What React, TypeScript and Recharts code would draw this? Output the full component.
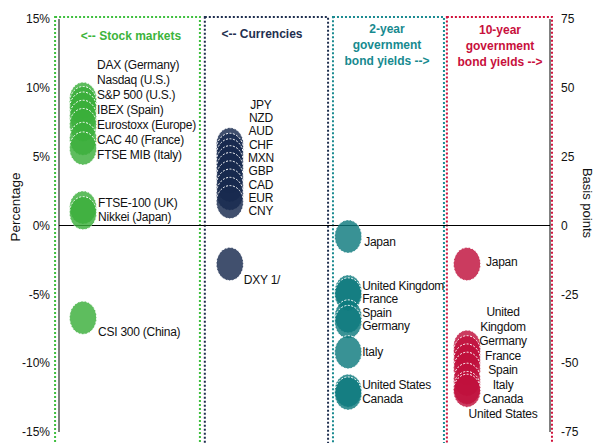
import { ScatterChart, Scatter, XAxis, YAxis, ReferenceArea, ReferenceLine } from 'recharts';

// stock markets, % change
const stockNames = ['DAX (Germany)', 'Nasdaq (U.S.)', 'S&P 500 (U.S.)', 'IBEX (Spain)', 'Eurostoxx  (Europe)', 'CAC 40 (France)', 'FTSE MIB  (Italy)', 'FTSE-100 (UK)', 'Nikkei (Japan)', 'CSI 300 (China)'];
const stockChange = [9.2, 8.9, 8.5, 7.9, 7.3, 6.3, 5.6, 1.3, 0.9, -6.7];

// currencies vs. USD, % change
const fxNames = ['JPY', 'NZD', 'AUD', 'CHF', 'MXN', 'GBP', 'CAD', 'EUR', 'CNY', 'DXY 1/'];
const fxChange = [5.9, 5.5, 5.1, 4.6, 4.1, 3.5, 2.9, 2.3, 1.7, -2.8];

// 2-year government bond yields, bp
const y2Names = ['Japan', 'United Kingdom', 'France', 'Spain', 'Germany', 'Italy', 'United States', 'Canada'];
const y2Change = [-4, -24, -25, -33, -35, -46, -60, -61];

// 10-year government bond yields, bp
const y10Names = ['Japan', 'United\nKingdom', 'Germany', 'France', 'Spain', 'Italy', 'Canada', 'United States'];
const y10Change = [-14, -44, -46, -49, -52, -56, -59, -60];

const pctTicks = [-15, -10, -5, 0, 5, 10, 15];
const bpTicks = [-75, -50, -25, 0, 25, 50, 75];

const W = 595;
const H = 443;
const margin = { top: 19, right: 0, bottom: 11, left: 0 };
const plotH = H - margin.top - margin.bottom;
const pxPer = { pct: plotH / 30, bp: plotH / 150 };
const FONT = '"Liberation Sans", Arial, sans-serif';

type Cluster = { ids: number[]; shift: number; gap: number; dx: number; anchor: 'start' | 'middle' };
type Panel = {
  key: string;
  axis: 'pct' | 'bp';
  slot: number;
  from: number;
  to: number;
  color: string;
  border: string;
  names: string[];
  values: number[];
  clusters: Cluster[];
};

const panels: Panel[] = [
  {
    key: 'stocks', axis: 'pct', slot: 0.49, from: -0.08, to: 2.87, color: '#3aae3a', border: '#3fbf3f',
    names: stockNames, values: stockChange,
    clusters: [
      { ids: [0, 1, 2, 3, 4, 5, 6], shift: -10, gap: 15, dx: 14, anchor: 'start' },
      { ids: [7, 8], shift: 0, gap: 14, dx: 15, anchor: 'start' },
      { ids: [9], shift: 14, gap: 14, dx: 15, anchor: 'start' },
    ],
  },
  {
    key: 'fx', axis: 'pct', slot: 3.48, from: 2.97, to: 5.48, color: '#172a4e', border: '#1f2f4f',
    names: fxNames, values: fxChange,
    clusters: [
      { ids: [0, 1, 2, 3, 4, 5, 6, 7, 8], shift: -13, gap: 13.3, dx: 31, anchor: 'middle' },
      { ids: [9], shift: 16, gap: 14, dx: 14, anchor: 'start' },
    ],
  },
  {
    key: 'y2', axis: 'bp', slot: 5.89, from: 5.58, to: 7.84, color: '#0d7a7e', border: '#1a8a90',
    names: y2Names, values: y2Change,
    clusters: [
      { ids: [0], shift: 5, gap: 13, dx: 16, anchor: 'start' },
      { ids: [1, 2, 3, 4, 5, 6, 7], shift: 0, gap: 13.5, dx: 14, anchor: 'start' },
    ],
  },
  {
    key: 'y10', axis: 'bp', slot: 8.31, from: 7.9, to: 10.04, color: '#c0103c', border: '#d0103a',
    names: y10Names, values: y10Change,
    clusters: [
      { ids: [0], shift: -2, gap: 14, dx: 19, anchor: 'start' },
      { ids: [1, 2, 3, 4, 5, 6, 7], shift: 0, gap: 14.5, dx: 36, anchor: 'middle' },
    ],
  },
];

// push overlapping labels apart, working in pixels (down = positive)
function spread(desired: number[], heights: number[]): number[] {
  const blocks: { ids: number[]; top: number; size: number }[] = [];
  for (let i = 0; i < desired.length; i++) {
    let b = { ids: [i], top: desired[i] - heights[i] / 2, size: heights[i] };
    while (blocks.length) {
      const prev = blocks[blocks.length - 1];
      if (prev.top + prev.size <= b.top) break;
      blocks.pop();
      const ids = [...prev.ids, ...b.ids];
      let off = 0;
      let sum = 0;
      for (const j of ids) {
        sum += desired[j] - (off + heights[j] / 2);
        off += heights[j];
      }
      b = { ids, top: sum / ids.length, size: off };
    }
    blocks.push(b);
  }
  const pos: number[] = [];
  for (const b of blocks) {
    let off = 0;
    for (const j of b.ids) {
      pos[j] = b.top + off + heights[j] / 2;
      off += heights[j];
    }
  }
  return pos;
}

function labelPoints(p: Panel) {
  const k = pxPer[p.axis];
  const out: any[] = [];
  p.clusters.forEach((c) => {
    const ids = [...c.ids].sort((a, b) => p.values[b] - p.values[a]);
    const desired = ids.map((i) => -p.values[i] * k + c.shift);
    const heights = ids.map((i) => p.names[i].split('\n').length * c.gap);
    const pos = spread(desired, heights);
    ids.forEach((i, n) => {
      out.push({ x: p.slot, y: -pos[n] / k, name: p.names[i], dx: c.dx, anchor: c.anchor, lh: c.gap });
    });
  });
  return out;
}

const Bubble = (props: any) => {
  const { cx, cy, fill } = props;
  if (cx == null || cy == null) return null;
  return (
    <ellipse cx={cx} cy={cy} rx={13.5} ry={16.5} fill={fill} fillOpacity={0.82}
      stroke="#ffffff" strokeWidth={1} strokeDasharray="2 1.5" />
  );
};

const LabelText = (props: any) => {
  const { cx, cy, payload } = props;
  if (cx == null || cy == null) return null;
  const lines: string[] = payload.name.split('\n');
  const y0 = cy - ((lines.length - 1) * payload.lh) / 2;
  return (
    <text x={cx + payload.dx} y={y0} textAnchor={payload.anchor} dominantBaseline="central"
      fontFamily={FONT} fontSize={12} letterSpacing={-0.25} fill="#111">
      {lines.map((l, i) => (
        <tspan key={i} x={cx + payload.dx} y={y0 + i * payload.lh}>{l}</tspan>
      ))}
    </text>
  );
};

const titles = [
  { lines: ['<-- Stock markets'], x: 131, y: 36, color: '#3cb43c' },
  { lines: ['<-- Currencies'], x: 262, y: 34, color: '#1f3050' },
  { lines: ['2-year', 'government', 'bond yields -->'], x: 387, y: 29, color: '#178a8f' },
  { lines: ['10-year', 'government', 'bond yields -->'], x: 500, y: 30, color: '#c8103c' },
];

export default function App() {
  return (
    <div style={{ position: 'relative', width: W, height: H }}>
      <style>{`body{margin:0}`}</style>
      <ScatterChart width={W} height={H} margin={margin}>
        <XAxis xAxisId="x" type="number" dataKey="x" domain={[0, 10]} hide />
        <YAxis yAxisId="pct" type="number" dataKey="y" domain={[-15, 15]} ticks={pctTicks}
          tickFormatter={(v) => `${v}%`} width={59} tickLine={false} tickMargin={3}
          axisLine={{ stroke: '#000' }} tick={{ fontSize: 12, fill: '#111', fontFamily: FONT }} />
        <YAxis yAxisId="bp" orientation="right" type="number" dataKey="y" domain={[-75, 75]} ticks={bpTicks}
          width={45} tickLine={false} tickMargin={5}
          axisLine={{ stroke: '#000' }} tick={{ fontSize: 12, fill: '#111', fontFamily: FONT }} />
        {panels.map((p) => (
          <ReferenceArea key={'area-' + p.key} xAxisId="x" yAxisId="pct" x1={p.from} x2={p.to} y1={-16.5} y2={15.15}
            ifOverflow="visible" fill="none" stroke={p.border} strokeWidth={2} strokeDasharray="2 2" />
        ))}
        <ReferenceLine xAxisId="x" yAxisId="pct" y={0} stroke="#000" strokeWidth={1} />
        {panels.map((p) => (
          <Scatter key={'dots-' + p.key} xAxisId="x" yAxisId={p.axis}
            data={p.values.map((v, i) => ({ x: p.slot, y: v, name: p.names[i] }))}
            fill={p.color} shape={Bubble} isAnimationActive={false} />
        ))}
        {panels.map((p) => (
          <Scatter key={'labels-' + p.key} xAxisId="x" yAxisId={p.axis} data={labelPoints(p)}
            shape={LabelText} isAnimationActive={false} />
        ))}
      </ScatterChart>
      <svg width={W} height={H} style={{ position: 'absolute', left: 0, top: 0, pointerEvents: 'none' }}>
        {titles.map((t) => (
          <text key={t.lines[0]} textAnchor="middle" fontFamily={FONT} fontWeight="bold" fontSize={12} fill={t.color}>
            {t.lines.map((l, i) => (
              <tspan key={i} x={t.x} y={t.y + i * 16} dominantBaseline="central">{l}</tspan>
            ))}
          </text>
        ))}
        <text transform="translate(15,207) rotate(-90)" textAnchor="middle" dominantBaseline="central"
          fontFamily={FONT} fontSize={13.5} fill="#111">Percentage</text>
        <text transform="translate(587,203) rotate(90)" textAnchor="middle" dominantBaseline="central"
          fontFamily={FONT} fontSize={13} fill="#111">Basis points</text>
      </svg>
    </div>
  );
}
